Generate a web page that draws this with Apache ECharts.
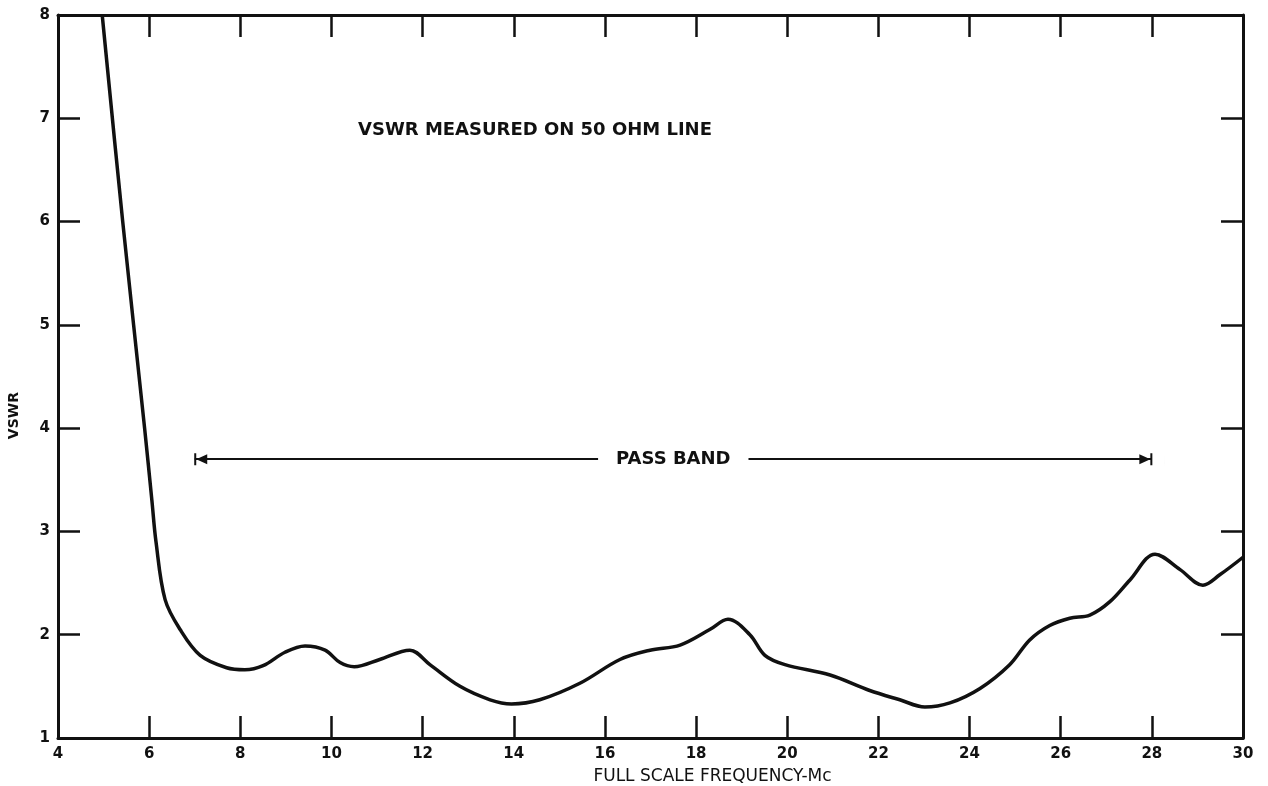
<!DOCTYPE html>
<html>
<head>
<meta charset="utf-8">
<script src="https://cdn.jsdelivr.net/npm/echarts@6/dist/echarts.min.js"></script>
<style>
  html, body { margin: 0; padding: 0; background: #fff; }
  #chart { width: 1268px; height: 786px; }
</style>
</head>
<body>
<div id="chart"></div>
<script>
// VSWR curve (frequency in Mc, VSWR)
var freq = [4.97, 5.42, 5.9, 6.06, 6.15, 6.35, 6.68, 7.12, 7.7, 8.1, 8.5, 8.98, 9.42, 9.86, 10.19, 10.5,
            11.06, 11.72, 12.16, 12.82, 13.48, 13.95, 14.57, 15.45, 16.33, 16.99, 17.65, 18.3, 18.7,
            19.18, 19.51, 19.95, 20.94, 21.81, 22.47, 23.02, 23.57, 24.23, 24.88, 25.32, 25.76, 26.2,
            26.64, 27.08, 27.52, 28.07, 28.62, 29.12, 29.49, 30];
var vswr = [8.0, 6.0, 4.0, 3.3, 2.9, 2.34, 2.05, 1.8, 1.68, 1.66, 1.7, 1.83, 1.89, 1.85, 1.73, 1.69,
            1.76, 1.85, 1.71, 1.5, 1.37, 1.33, 1.37, 1.53, 1.76, 1.85, 1.9, 2.05, 2.15,
            2.0, 1.8, 1.71, 1.61, 1.46, 1.37, 1.3, 1.34, 1.48, 1.71, 1.95, 2.09, 2.16,
            2.19, 2.32, 2.53, 2.78, 2.63, 2.48, 2.58, 2.75];

var passBandStart = 7;
var passBandEnd = 28;
var passBandLevel = 3.7;
var passBandGap = [15.85, 19.15];

var chart = echarts.init(document.getElementById('chart'));
var font = 'DejaVu Sans';
var ink = '#111';

var points = [];
freq.forEach(function(f, i) {
    points.push([f, vswr[i]]);
});

// arrow head with an end bar; the bar sits at the symbol centre
var arrowHead = 'path://M0,0 L12,0 L12,0.01 Z M0,12 L12,12 L12,14 L0,14 Z M6,14 L11,25 L1,25 Z';

var tickStyle = { show: true, inside: true, length: 22, lineStyle: { color: ink, width: 2.5 } };
var lineStyle = { color: ink, width: 3 };

option = {
    backgroundColor: '#fff',
    animation: false,
    grid: { left: 58, right: 25, top: 15, bottom: 48, outerBoundsMode: 'none' },
    title: {
        text: 'VSWR MEASURED ON 50 OHM LINE',
        left: 353,
        top: 116,
        textStyle: { fontFamily: font, fontWeight: 'bold', fontSize: 18, color: ink }
    },
    graphic: [{
        type: 'text',
        left: 7,
        top: 392,
        rotation: Math.PI / 2,
        style: { text: 'VSWR', font: 'bold 14px ' + font, fill: ink }
    }],
    xAxis: [{
        type: 'value', min: 4, max: 30, interval: 2, position: 'bottom',
        name: 'FULL SCALE FREQUENCY-Mc', nameLocation: 'middle', nameGap: 30,
        nameTextStyle: { fontFamily: font, fontSize: 17, color: ink, padding: [0, 0, 0, 124] },
        axisLine: { show: true, lineStyle: lineStyle },
        axisTick: tickStyle,
        axisLabel: { fontFamily: font, fontWeight: 'bold', fontSize: 15, color: ink, margin: 9 },
        splitLine: { show: false }
    }, {
        type: 'value', min: 4, max: 30, interval: 2, position: 'top',
        axisLine: { show: true, lineStyle: lineStyle },
        axisTick: tickStyle,
        axisLabel: { show: false },
        splitLine: { show: false }
    }],
    yAxis: [{
        type: 'value', min: 1, max: 8, interval: 1, position: 'left',
        axisLine: { show: true, lineStyle: lineStyle },
        axisTick: tickStyle,
        axisLabel: { fontFamily: font, fontWeight: 'bold', fontSize: 15, color: ink, margin: 8 },
        splitLine: { show: false }
    }, {
        type: 'value', min: 1, max: 8, interval: 1, position: 'right',
        axisLine: { show: true, lineStyle: lineStyle },
        axisTick: tickStyle,
        axisLabel: { show: false },
        splitLine: { show: false }
    }],
    series: [{
        name: 'VSWR',
        type: 'line',
        data: points,
        smooth: 0.35,
        showSymbol: false,
        lineStyle: { color: ink, width: 3.5 },
        markLine: {
            silent: true,
            symbol: [arrowHead, 'none'],
            symbolSize: [12, 25],
            lineStyle: { color: ink, width: 2, type: 'solid' },
            label: { show: false },
            data: [
                [{ coord: [passBandStart, passBandLevel], symbol: arrowHead },
                 { coord: [passBandGap[0], passBandLevel], symbol: 'none' }],
                [{ coord: [passBandGap[1], passBandLevel], symbol: 'none' },
                 { coord: [passBandEnd, passBandLevel], symbol: arrowHead }]
            ]
        }
    }, {
        name: 'label',
        type: 'scatter',
        data: [[17.5, passBandLevel]],
        symbolSize: 0,
        silent: true,
        itemStyle: { opacity: 1, color: ink },
        label: {
            show: true, position: 'inside', formatter: 'PASS BAND',
            fontFamily: font, fontWeight: 'bold', fontSize: 18, color: ink,
            textBorderWidth: 0, opacity: 1
        }
    }]
};

chart.setOption(option);
</script>
</body>
</html>
